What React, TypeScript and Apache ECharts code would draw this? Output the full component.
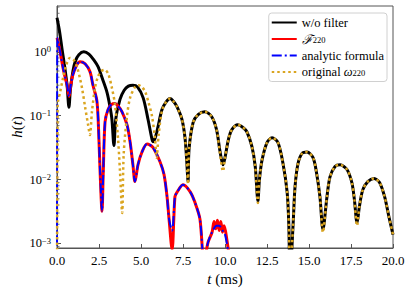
import React, { useEffect, useRef } from 'react';
import * as echarts from 'echarts';

// ---- data (t in ms, h(t)) ----
const woFilter: [number, number][] = [
  [0, 3.4], [0.15, 2.1], [0.3, 1.1], [0.45, 0.6], [0.6, 0.3], [0.71, 0.135],
  [0.8, 0.26], [0.95, 0.5], [1.1, 0.72], [1.3, 0.9], [1.6, 1.0], [1.9, 0.92], [2.2, 0.74],
  [2.45, 0.58], [2.7, 0.38], [2.98, 0.23], [3.15, 0.14], [3.27, 0.087], [3.39, 0.034],
  [3.5, 0.09], [3.75, 0.18], [4.0, 0.25], [4.25, 0.29], [4.52, 0.3], [4.8, 0.28], [5.13, 0.19],
  [5.42, 0.087], [5.6, 0.05], [5.71, 0.039], [5.85, 0.045], [6.0, 0.065], [6.25, 0.125],
  [6.5, 0.165], [6.73, 0.185], [6.95, 0.165], [7.14, 0.138], [7.44, 0.087], [7.62, 0.045],
  [7.72, 0.02], [7.8, 0.0093], [7.86, 0.03], [8.1, 0.078], [8.4, 0.104], [8.8, 0.115],
  [9.2, 0.097], [9.5, 0.06], [9.7, 0.028], [9.88, 0.017], [10.0, 0.022], [10.2, 0.042],
  [10.4, 0.06], [10.77, 0.072], [11.05, 0.066], [11.3, 0.056], [11.6, 0.033], [11.8, 0.016],
  [11.96, 0.0046], [12.05, 0.01], [12.2, 0.02], [12.5, 0.038], [12.8, 0.045], [13.15, 0.038],
  [13.45, 0.018], [13.7, 0.0063], [13.8, 0.0019], [13.87, 0.0003], [14.05, 0.0019],
  [14.17, 0.0078], [14.35, 0.018], [14.6, 0.026], [14.88, 0.027], [15.24, 0.022],
  [15.45, 0.0127], [15.65, 0.0054], [15.83, 0.00166], [16.07, 0.0054], [16.25, 0.011],
  [16.55, 0.016], [16.85, 0.017], [17.26, 0.0144], [17.55, 0.009], [17.7, 0.0049],
  [17.86, 0.0021], [18.0, 0.0038], [18.2, 0.0069], [18.5, 0.0093], [18.87, 0.0104],
  [19.2, 0.009], [19.5, 0.0054], [19.76, 0.0026], [20, 0.00138],
];

const filterF220: [number, number][] = [
  [0, 1.65], [0.1, 1.3], [0.2, 0.95], [0.36, 0.56], [0.5, 0.38], [0.6, 0.3], [0.72, 0.2],
  [0.82, 0.3], [0.95, 0.44], [1.19, 0.63], [1.37, 0.7], [1.67, 0.65], [1.96, 0.49],
  [2.14, 0.3], [2.38, 0.166], [2.5, 0.04], [2.56, 0.0144], [2.68, 0.0032], [2.75, 0.012],
  [2.86, 0.08], [3.04, 0.125], [3.25, 0.15], [3.45, 0.155], [3.65, 0.14], [3.87, 0.115],
  [4.17, 0.072], [4.35, 0.039], [4.52, 0.017], [4.64, 0.0093], [4.82, 0.017], [5.06, 0.027],
  [5.36, 0.036], [5.71, 0.032], [6.13, 0.019], [6.37, 0.012], [6.55, 0.0054], [6.67, 0.0024],
  [6.85, 0.0008], [7.02, 0.0054], [7.14, 0.0063], [7.5, 0.0083], [7.92, 0.0065],
  [8.21, 0.0044], [8.51, 0.0024], [8.75, 0.0005], [8.99, 0.00104], [9.23, 0.0015],
  [9.35, 0.0022], [9.45, 0.0017], [9.55, 0.0023], [9.65, 0.0016], [9.75, 0.0022],
  [9.85, 0.0015], [9.95, 0.0019], [10.1, 0.0012], [10.3, 0.0005],
];

const analyticFormula: [number, number][] = [
  [0, 0.00001], [0.02, 1.65], [0.1, 1.3], [0.2, 0.95], [0.36, 0.56], [0.5, 0.38], [0.6, 0.3],
  [0.72, 0.2], [0.82, 0.3], [0.95, 0.44], [1.19, 0.63], [1.37, 0.7], [1.67, 0.65],
  [1.96, 0.49], [2.14, 0.3], [2.38, 0.166], [2.5, 0.04], [2.56, 0.0144], [2.68, 0.0032],
  [2.75, 0.012], [2.86, 0.08], [3.04, 0.125], [3.25, 0.15], [3.45, 0.155], [3.65, 0.14],
  [3.87, 0.115], [4.17, 0.072], [4.35, 0.039], [4.52, 0.017], [4.64, 0.0093], [4.82, 0.017],
  [5.06, 0.027], [5.36, 0.036], [5.71, 0.032], [6.13, 0.019], [6.37, 0.012], [6.55, 0.0054],
  [6.67, 0.0024], [6.85, 0.0016], [7.02, 0.0054], [7.14, 0.0063], [7.5, 0.0083],
  [7.92, 0.0065], [8.21, 0.0044], [8.51, 0.0024], [8.75, 0.0005], [8.99, 0.00104],
  [9.23, 0.0015], [9.5, 0.0019], [9.65, 0.0019], [9.85, 0.0016], [10.0, 0.0014], [10.3, 0.0005],
];

const originalOmega: [number, number][] = [
  [0, 0.00001], [0.04, 0.15], [0.18, 0.23], [0.36, 0.39], [0.55, 0.62], [0.77, 0.8],
  [1.0, 0.74], [1.19, 0.58], [1.35, 0.4], [1.49, 0.27], [1.67, 0.138], [1.85, 0.072],
  [1.96, 0.05], [2.08, 0.115], [2.26, 0.27], [2.44, 0.41], [2.65, 0.5], [2.85, 0.52],
  [3.05, 0.45], [3.27, 0.27], [3.45, 0.15], [3.63, 0.045], [3.75, 0.0133], [3.88, 0.003],
  [3.97, 0.025], [4.17, 0.1], [4.35, 0.19], [4.64, 0.28], [4.85, 0.3], [5.05, 0.28],
  [5.24, 0.24], [5.45, 0.16], [5.65, 0.1], [5.83, 0.045], [5.93, 0.022], [6.05, 0.05],
  [6.25, 0.12], [6.5, 0.165], [6.73, 0.185], [6.95, 0.165], [7.14, 0.138], [7.44, 0.087],
  [7.62, 0.045], [7.72, 0.02], [7.8, 0.0085], [7.86, 0.03], [8.1, 0.078], [8.4, 0.104],
  [8.8, 0.115], [9.2, 0.097], [9.5, 0.06], [9.7, 0.026], [9.88, 0.0135], [10.0, 0.022],
  [10.2, 0.042], [10.4, 0.06], [10.77, 0.072], [11.05, 0.066], [11.3, 0.056], [11.6, 0.033],
  [11.8, 0.016], [11.96, 0.0043], [12.05, 0.01], [12.2, 0.02], [12.5, 0.038], [12.8, 0.045],
  [13.15, 0.038], [13.45, 0.018], [13.7, 0.0063], [13.8, 0.0019], [13.87, 0.0003],
  [14.05, 0.0019], [14.17, 0.0078], [14.35, 0.018], [14.6, 0.026], [14.88, 0.027],
  [15.24, 0.022], [15.45, 0.0127], [15.65, 0.0054], [15.83, 0.0015], [16.07, 0.0054],
  [16.25, 0.011], [16.55, 0.016], [16.85, 0.017], [17.26, 0.0144], [17.55, 0.009],
  [17.7, 0.0049], [17.86, 0.0019], [18.0, 0.0038], [18.2, 0.0069], [18.5, 0.0093],
  [18.87, 0.0104], [19.2, 0.009], [19.5, 0.0054], [19.76, 0.0026], [20, 0.00138],
];

const seriesNames = ['w/o filter', 'F220', 'analytic formula', 'original ω220'];
const seriesColors = ['#000000', '#ff0000', '#0000ff', '#daa520'];
const xMin = 0;
const xMax = 20;
const xStep = 2.5;
const yMin = 0.00085;
const yMax = 5.2;

const FONT = '"Liberation Serif", "DejaVu Serif", serif';
const AXIS_COLOR = '#555555';

export default function App() {
  const ref = useRef<HTMLDivElement>(null);

  useEffect(() => {
    if (!ref.current) return;
    const chart = echarts.init(ref.current, undefined, { renderer: 'svg' });

    const option: any = {
      animation: false,
      backgroundColor: '#ffffff',
      grid: {
        left: 57, right: 22, top: 6, bottom: 47,
        show: true, borderColor: AXIS_COLOR, borderWidth: 1,
      },
      legend: {
        orient: 'vertical',
        right: 28,
        top: 13,
        itemWidth: 25,
        itemHeight: 10,
        itemGap: 3.5,
        padding: [3, 3, 3, 2],
        backgroundColor: 'rgba(255,255,255,0.85)',
        borderColor: '#d0d0d0',
        borderWidth: 1,
        borderRadius: 3,
        itemStyle: { opacity: 0, color: 'rgba(0,0,0,0)', borderWidth: 0 },
        data: seriesNames,
        formatter: (name: string) => {
          if (name === 'F220') return '{cal|ℱ}{sub|220}';
          if (name === 'original ω220') return 'original {it|ω}{sub|220}';
          return name;
        },
        textStyle: {
          fontFamily: FONT, fontSize: 12.5, color: '#000', lineHeight: 11, padding: [0, 0, 0, 0],
          rich: {
            cal: { fontFamily: FONT, fontSize: 13, fontStyle: 'italic', lineHeight: 11 },
            it: { fontFamily: FONT, fontSize: 12.5, fontStyle: 'italic', lineHeight: 11 },
            sub: { fontFamily: FONT, fontSize: 8.5, lineHeight: 8, verticalAlign: 'bottom' },
          },
        },
      },
      xAxis: {
        type: 'value',
        min: xMin, max: xMax, interval: xStep,
        axisLine: { show: true, lineStyle: { color: AXIS_COLOR, width: 1 } },
        axisTick: { show: true, inside: true, length: 4, lineStyle: { color: AXIS_COLOR } },
        splitLine: { show: false },
        axisLabel: {
          margin: 6, color: '#000', fontFamily: FONT, fontSize: 13,
          formatter: (v: number) => v.toFixed(1),
        },
      },
      yAxis: {
        type: 'log',
        logBase: 10,
        min: yMin, max: yMax,
        axisLine: { show: true, lineStyle: { color: AXIS_COLOR, width: 1 } },
        axisTick: { show: true, inside: true, length: 4, lineStyle: { color: AXIS_COLOR } },
        splitLine: { show: false },
        axisLabel: {
          margin: 6, color: '#000', fontFamily: FONT,
          showMinLabel: false, showMaxLabel: false,
          formatter: (v: number) => {
            const e = Math.log10(v);
            const r = Math.round(e);
            if (Math.abs(e - r) > 1e-6) return '';
            const s = r < 0 ? '\u2212' + String(-r) : String(r);
            return '{b|10}{sup|' + s + '}';
          },
          rich: {
            b: { fontFamily: FONT, fontSize: 12.5, color: '#000', lineHeight: 14 },
            sup: { fontFamily: FONT, fontSize: 8.5, color: '#000', lineHeight: 8, verticalAlign: 'top' },
          },
        },
      },
      series: [
        {
          name: seriesNames[0], type: 'line', data: woFilter, symbol: 'none', smooth: 0.3,
          lineStyle: { color: seriesColors[0], width: 3 }, itemStyle: { color: seriesColors[0] }, z: 2,
        },
        {
          name: seriesNames[1], type: 'line', data: filterF220, symbol: 'none', smooth: 0.3,
          lineStyle: { color: seriesColors[1], width: 3 }, itemStyle: { color: seriesColors[1] }, z: 3,
        },
        {
          name: seriesNames[2], type: 'line', data: analyticFormula, symbol: 'none', smooth: 0.3,
          lineStyle: { color: seriesColors[2], width: 2, type: [10, 3, 2, 3] },
          itemStyle: { color: seriesColors[2] }, z: 4,
        },
        {
          name: seriesNames[3], type: 'line', data: originalOmega, symbol: 'none', smooth: 0.3,
          lineStyle: { color: seriesColors[3], width: 2.5, type: [2.5, 3] },
          itemStyle: { color: seriesColors[3] }, z: 5,
        },
      ],
    };
    chart.setOption(option);

    // minor log ticks + axis titles
    const x0 = chart.convertToPixel({ xAxisIndex: 0 }, xMin) as number;
    const graphics: any[] = [];
    for (let e = -4; e <= 1; e++) {
      for (let k = 2; k <= 9; k++) {
        const v = k * Math.pow(10, e);
        if (v > yMin && v < yMax) {
          const y = chart.convertToPixel({ yAxisIndex: 0 }, v) as number;
          graphics.push({
            type: 'line', silent: true,
            shape: { x1: x0, y1: y, x2: x0 + 2.5, y2: y },
            style: { stroke: AXIS_COLOR, lineWidth: 0.8 },
          });
        }
      }
    }
    graphics.push({
      type: 'text', x: 225, y: 279, silent: true,
      style: {
        text: '{i|t} (ms)', align: 'center', verticalAlign: 'middle',
        textAlign: 'center', textVerticalAlign: 'middle',
        font: '15px ' + FONT, fill: '#000',
        rich: {
          i: { fontFamily: FONT, fontSize: 15, fontStyle: 'italic', fill: '#000' },
        },
      },
    });
    graphics.push({
      type: 'text', x: 17, y: 127, rotation: Math.PI / 2, silent: true,
      style: {
        text: '{i|h}({i|t})', align: 'center', verticalAlign: 'middle',
        textAlign: 'center', textVerticalAlign: 'middle',
        font: '15px ' + FONT, fill: '#000',
        rich: {
          i: { fontFamily: FONT, fontSize: 15, fontStyle: 'italic', fill: '#000' },
        },
      },
    });
    chart.setOption({ graphic: graphics });

    return () => chart.dispose();
  }, []);

  return (
    <div
      ref={ref}
      style={{ position: 'absolute', left: 0, top: 0, width: 415, height: 295, background: '#fff' }}
    />
  );
}
